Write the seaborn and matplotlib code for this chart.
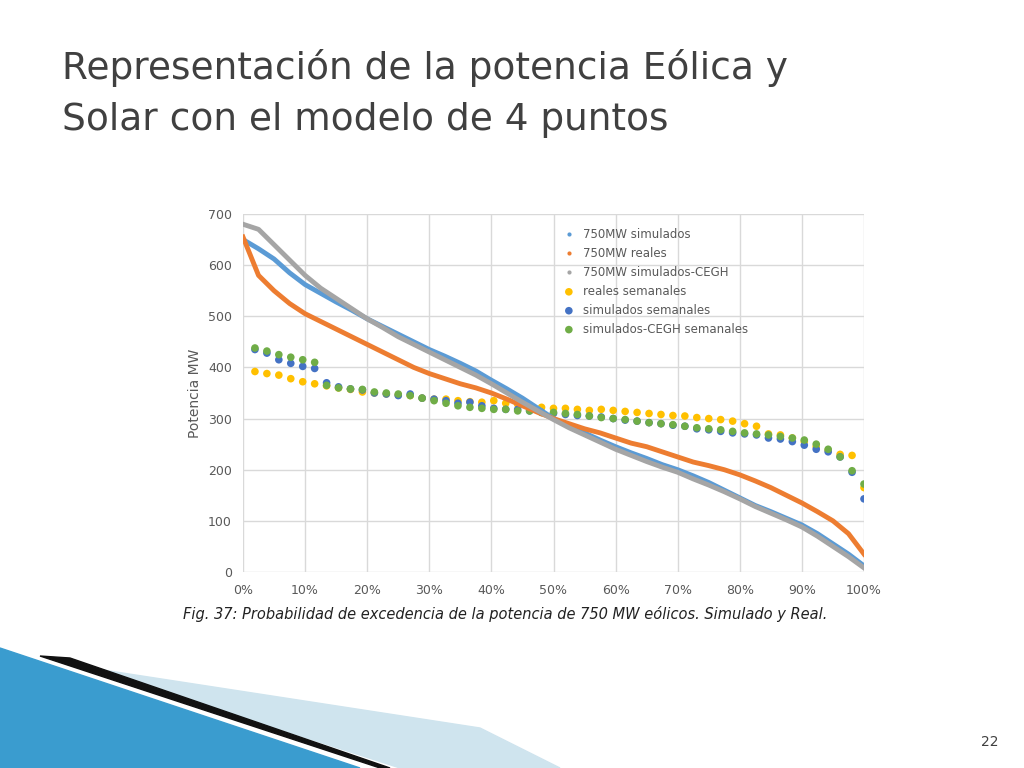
import numpy as np
import pandas as pd
import seaborn as sns
import matplotlib.pyplot as plt
from matplotlib.patches import Polygon
from matplotlib.ticker import FuncFormatter

pct = [i * 2.5 for i in range(41)]
sim = [650,632,612,585,562,545,528,512,495,480,465,450,435,422,408,393,375,358,340,320,300,285,272,258,245,233,222,210,200,188,175,160,145,130,118,105,92,75,55,35,12]
cegh = [680,670,640,610,580,555,535,515,495,478,460,445,430,415,400,385,368,350,332,315,298,282,268,254,240,228,216,205,195,182,170,157,143,128,115,102,88,70,50,30,8]
real = [655,580,550,525,505,490,475,460,445,430,415,400,388,378,368,360,350,338,325,312,300,290,280,272,262,252,245,235,225,215,208,200,190,178,165,150,135,118,100,75,35]

wk = [(k + 1) / 52 * 100 for k in range(52)]
w_real = [392,388,385,378,372,368,364,360,357,352,350,348,346,345,340,338,338,335,333,332,335,330,328,325,322,320,320,318,316,318,316,314,312,310,308,306,305,302,300,298,295,290,285,270,268,262,255,245,238,230,228,165]
w_sim = [435,428,415,408,402,398,370,362,358,356,350,348,345,348,340,338,335,330,332,325,320,318,318,315,312,310,308,306,305,303,300,297,295,292,290,287,285,280,278,275,272,270,268,262,260,255,248,240,235,225,195,143]
w_cegh = [438,432,425,420,415,410,365,360,358,357,352,350,348,345,340,335,330,325,322,320,318,318,315,315,312,312,310,308,305,302,300,298,295,292,290,288,285,282,280,278,275,272,270,268,265,262,258,250,240,225,198,172]

fig = plt.figure(figsize=(10.24, 7.68), dpi=100)
fig.patch.set_facecolor("white")

# decorative swoosh
fig.patches.append(Polygon([[0, 120/768], [0, 0], [360/1024, 0], [60/1024, 100/768]], closed=True,
                           transform=fig.transFigure, color="#3a9ccf", zorder=0))
fig.patches.append(Polygon([[40/1024, 112/768], [380/1024, 0], [390/1024, 0], [70/1024, 110/768]], closed=True,
                           transform=fig.transFigure, color="#111111", zorder=1))
fig.patches.append(Polygon([[90/1024, 100/768], [480/1024, 40/768], [560/1024, 0], [400/1024, 0]], closed=True,
                           transform=fig.transFigure, color="#cfe4ee", zorder=0))

fig.text(62/1024, 1 - 68/768, "Representación de la potencia Eólica y", fontsize=27, color="#404040",
         va="center", family="DejaVu Sans")
fig.text(62/1024, 1 - 120/768, "Solar con el modelo de 4 puntos", fontsize=27, color="#404040",
         va="center", family="DejaVu Sans")
fig.text(990/1024, 1 - 742/768, "22", fontsize=10, color="#404040", ha="center", va="center")

ax = fig.add_axes([243/1024, 1 - 572/768, 621/1024, 358/768])
df1 = pd.DataFrame({"x": pct, "y": sim})
df2 = pd.DataFrame({"x": pct, "y": real})
df3 = pd.DataFrame({"x": pct, "y": cegh})
sns.lineplot(data=df1, x="x", y="y", ax=ax, color="#5b9bd5", lw=3.5, label="750MW simulados")
sns.lineplot(data=df2, x="x", y="y", ax=ax, color="#ed7d31", lw=3.5, label="750MW reales")
sns.lineplot(data=df3, x="x", y="y", ax=ax, color="#a5a5a5", lw=3.5, label="750MW simulados-CEGH")
sns.scatterplot(x=wk, y=w_real, ax=ax, color="#ffc000", s=30, edgecolor="none", label="reales semanales")
sns.scatterplot(x=wk, y=w_sim, ax=ax, color="#4472c4", s=30, edgecolor="none", label="simulados semanales")
sns.scatterplot(x=wk, y=w_cegh, ax=ax, color="#70ad47", s=30, edgecolor="none", label="simulados-CEGH semanales")

ax.set_xlim(0, 100)
ax.set_ylim(0, 700)
ax.set_xticks(range(0, 101, 10))
ax.xaxis.set_major_formatter(FuncFormatter(lambda v, p: f"{int(v)}%"))
ax.set_yticks(range(0, 701, 100))
ax.grid(True, color="#d9d9d9", lw=1)
ax.set_axisbelow(True)
for s in ax.spines.values():
    s.set_visible(False)
ax.tick_params(axis="x", length=0, labelsize=9, colors="#595959", pad=9)
ax.tick_params(axis="y", length=0, labelsize=9, colors="#595959", pad=8)
ax.set_xlabel("")
ax.set_ylabel("Potencia MW", fontsize=10, color="#595959")
leg = ax.legend(loc="upper left", bbox_to_anchor=(0.5, 0.99), frameon=False, fontsize=8.5,
                labelcolor="#595959", handlelength=0.8)
for h in leg.get_lines():
    h.set_linewidth(0)
    h.set_marker("o")
    h.set_markersize(3)
    h.set_markeredgewidth(0)
    h.set_markerfacecolor(h.get_color())

fig.text(183/1024, 1 - 614/768, "Fig. 37: Probabilidad de excedencia de la potencia de 750 MW eólicos. Simulado y Real.",
         fontsize=10.5, style="italic", color="#222222", va="center")

fig.savefig("out.png", dpi=100)
